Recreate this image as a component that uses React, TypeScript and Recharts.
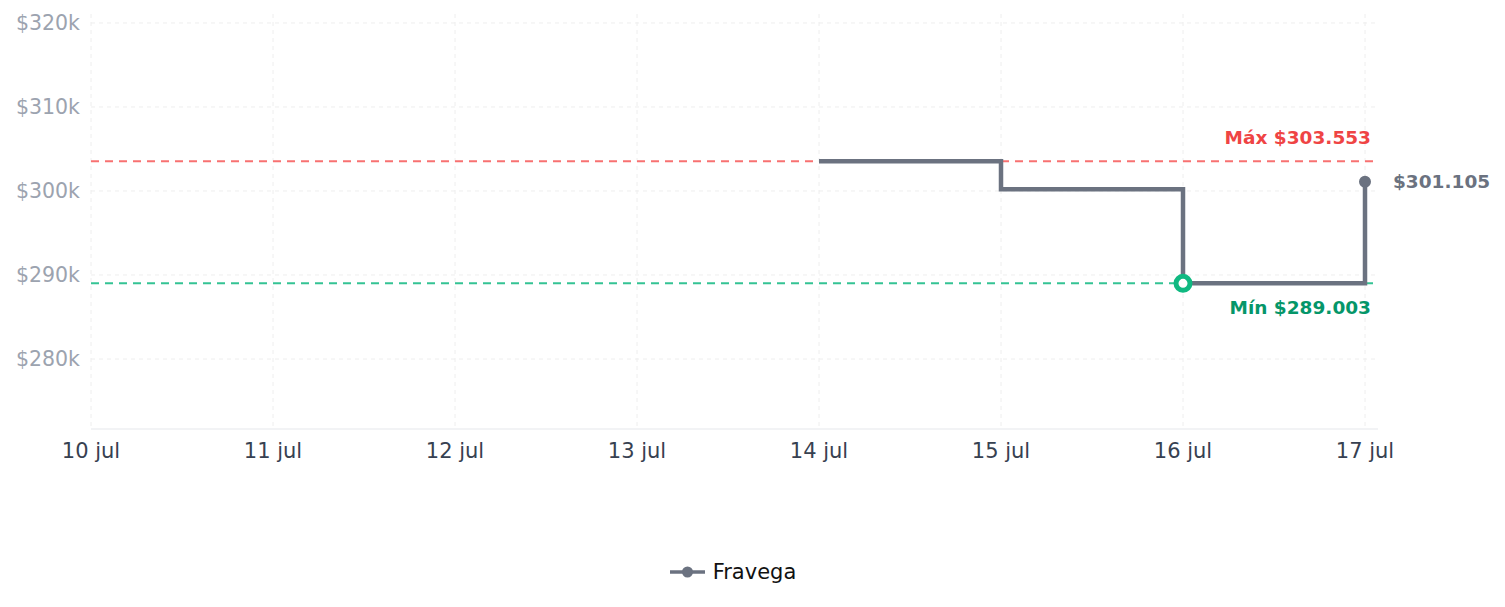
import React from 'react';
import { LineChart, Line, XAxis, YAxis, CartesianGrid, ReferenceLine, Legend } from 'recharts';

// Price history (ARS) per day
const dates = ['10 jul', '11 jul', '12 jul', '13 jul', '14 jul', '15 jul', '16 jul', '17 jul'];
const fravegaPrices: (number | null)[] = [null, null, null, null, 303553, 300210, 289003, 301105];
const yTicks = [280000, 290000, 300000, 310000, 320000];
const yDomain = [271667, 321070];

const FONT = '"DejaVu Sans", Verdana, sans-serif';
const GRAY = '#6b7280';

const chartData = dates.map((d, i) => ({ date: d, fravega: fravegaPrices[i] }));

const known = fravegaPrices.filter((v): v is number => v != null);
const maxPrice = Math.max(...known);
const minPrice = Math.min(...known);
const minIndex = fravegaPrices.indexOf(minPrice);
const lastIndex = fravegaPrices.length - 1;

const money = (v: number) => '$' + String(Math.round(v)).replace(/\B(?=(\d{3})+(?!\d))/g, '.');

const renderDot = (props: any) => {
  const { cx, cy, index, value } = props;
  if (value == null || cx == null || cy == null) return <g key={`d-${index}`} />;
  if (index === minIndex) {
    return <circle key={`d-${index}`} cx={cx} cy={cy} r={7} fill="#fff" stroke="#10b981" strokeWidth={5} />;
  }
  if (index === lastIndex) {
    return <circle key={`d-${index}`} cx={cx} cy={cy} r={5} fill={GRAY} stroke={GRAY} strokeWidth={2} />;
  }
  return <g key={`d-${index}`} />;
};

const renderLastLabel = (props: any) => {
  const { x, y, index, value } = props;
  if (index !== lastIndex || value == null) return <g key={`l-${index}`} />;
  return (
    <text key={`l-${index}`} x={x + 28} y={y} dominantBaseline="central" fill={GRAY} fontSize={18.5} fontWeight={700} fontFamily={FONT}>
      {money(value)}
    </text>
  );
};

const refLabel = (text: string, color: string, dy: number) => (props: any) => {
  const vb = props.viewBox || {};
  return (
    <text x={vb.x + vb.width - 7} y={vb.y + dy} textAnchor="end" dominantBaseline="central" fill={color} fontSize={18.5} fontWeight={700} fontFamily={FONT}>
      {text}
    </text>
  );
};

const renderLegend = () => (
  <div style={{ display: 'flex', justifyContent: 'center', alignItems: 'center', height: 30, paddingLeft: 80, fontFamily: FONT, fontSize: 21, color: '#111' }}>
    <svg width={35} height={14} style={{ marginRight: 8 }}>
      <line x1={0} y1={7} x2={35} y2={7} stroke={GRAY} strokeWidth={3.5} />
      <circle cx={17.5} cy={7} r={5.5} fill={GRAY} />
    </svg>
    <span>Fravega</span>
  </div>
);

export default function App() {
  return (
    <div style={{ width: 1489, height: 591, fontFamily: FONT }}>
      <LineChart width={1489} height={591} data={chartData} margin={{ top: 6, right: 119, bottom: 12, left: 0 }}>
        <CartesianGrid stroke="#eeeeee" strokeDasharray="4 4" syncWithTicks />
        <XAxis
          dataKey="date"
          height={128}
          padding={{ left: 0, right: 13 }}
          tickLine={false}
          tickMargin={8}
          axisLine={{ stroke: '#e5e7eb' }}
          tick={{ fill: '#374151', fontSize: 21, fontFamily: FONT }}
          interval={0}
        />
        <YAxis
          width={83}
          domain={yDomain}
          ticks={yTicks}
          allowDataOverflow
          axisLine={false}
          tickLine={false}
          tickMargin={5}
          tick={{ fill: '#9ca3af', fontSize: 20.5, fontFamily: FONT }}
          tickFormatter={(v: number) => `$${v / 1000}k`}
        />
        <ReferenceLine y={maxPrice} stroke="#f87171" strokeWidth={2} strokeDasharray="8 6" label={refLabel(`Máx ${money(maxPrice)}`, '#ef4444', -24)} />
        <ReferenceLine y={minPrice} stroke="#10b981" strokeOpacity={0.85} strokeWidth={2} strokeDasharray="8 6" label={refLabel(`Mín ${money(minPrice)}`, '#059669', 24)} />
        <Legend verticalAlign="bottom" content={renderLegend} />
        <Line
          type="stepAfter"
          dataKey="fravega"
          name="Fravega"
          stroke={GRAY}
          strokeWidth={4.5}
          dot={renderDot}
          activeDot={false}
          label={renderLastLabel}
          connectNulls={false}
          isAnimationActive={false}
        />
      </LineChart>
    </div>
  );
}
